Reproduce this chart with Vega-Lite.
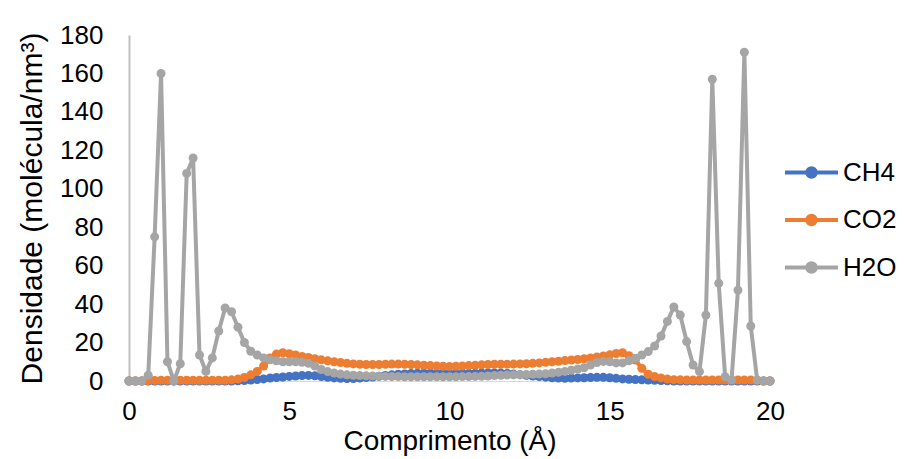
{
  "$schema": "https://vega.github.io/schema/vega-lite/v6.json",
  "width": 641,
  "height": 346,
  "autosize": {"type": "none"},
  "padding": {"left": 129, "top": 35, "right": 136, "bottom": 78},
  "background": "white",
  "config": {
    "view": {"stroke": null},
    "font": "Liberation Sans",
    "axis": {"labelFont": "Liberation Sans", "titleFont": "Liberation Sans", "labelColor": "#000000", "titleColor": "#000000", "titleFontWeight": "normal", "grid": false, "ticks": false},
    "legend": {"labelFont": "Liberation Sans", "labelColor": "#000000"}
  },
  "data": {
    "values": [
      {"x": 0.0, "CH4": 0, "CO2": 0, "H2O": 0},
      {"x": 0.2, "CH4": 0, "CO2": 0, "H2O": 0},
      {"x": 0.4, "CH4": 0, "CO2": 0, "H2O": 0},
      {"x": 0.6, "CH4": 0, "CO2": 0.2, "H2O": 3},
      {"x": 0.8, "CH4": 0, "CO2": 0.3, "H2O": 75},
      {"x": 1.0, "CH4": 0, "CO2": 0.4, "H2O": 160},
      {"x": 1.2, "CH4": 0, "CO2": 0.4, "H2O": 10},
      {"x": 1.4, "CH4": 0, "CO2": 0.4, "H2O": 0},
      {"x": 1.6, "CH4": 0, "CO2": 0.4, "H2O": 9},
      {"x": 1.8, "CH4": 0, "CO2": 0.4, "H2O": 108},
      {"x": 2.0, "CH4": 0, "CO2": 0.4, "H2O": 116},
      {"x": 2.2, "CH4": 0, "CO2": 0.4, "H2O": 13.5},
      {"x": 2.4, "CH4": 0, "CO2": 0.4, "H2O": 5},
      {"x": 2.6, "CH4": 0, "CO2": 0.4, "H2O": 12},
      {"x": 2.8, "CH4": 0, "CO2": 0.4, "H2O": 26},
      {"x": 3.0, "CH4": 0, "CO2": 0.4, "H2O": 38},
      {"x": 3.2, "CH4": 0, "CO2": 0.6, "H2O": 36},
      {"x": 3.4, "CH4": 0.1, "CO2": 1.0, "H2O": 28},
      {"x": 3.6, "CH4": 0.2, "CO2": 1.8, "H2O": 20},
      {"x": 3.8, "CH4": 0.5, "CO2": 3.2, "H2O": 15.5},
      {"x": 4.0, "CH4": 0.8, "CO2": 5.0, "H2O": 13.5},
      {"x": 4.2, "CH4": 1.1, "CO2": 7.8, "H2O": 12},
      {"x": 4.4, "CH4": 1.5, "CO2": 12.0, "H2O": 11},
      {"x": 4.6, "CH4": 1.8, "CO2": 14.0, "H2O": 10.5},
      {"x": 4.8, "CH4": 2.1, "CO2": 14.7, "H2O": 10},
      {"x": 5.0, "CH4": 2.4, "CO2": 14.2, "H2O": 10},
      {"x": 5.2, "CH4": 2.6, "CO2": 13.5, "H2O": 10},
      {"x": 5.4, "CH4": 2.8, "CO2": 12.8, "H2O": 9.7},
      {"x": 5.6, "CH4": 2.9, "CO2": 12.2, "H2O": 9.2},
      {"x": 5.8, "CH4": 2.7, "CO2": 11.6, "H2O": 7.8},
      {"x": 6.0, "CH4": 2.3, "CO2": 11.0, "H2O": 6},
      {"x": 6.2, "CH4": 1.9, "CO2": 10.5, "H2O": 4.9},
      {"x": 6.4, "CH4": 1.6, "CO2": 10.0, "H2O": 4.1},
      {"x": 6.6, "CH4": 1.4, "CO2": 9.6, "H2O": 3.6},
      {"x": 6.8, "CH4": 1.3, "CO2": 9.2, "H2O": 3.2},
      {"x": 7.0, "CH4": 1.3, "CO2": 8.9, "H2O": 3.0},
      {"x": 7.2, "CH4": 1.5, "CO2": 8.7, "H2O": 2.8},
      {"x": 7.4, "CH4": 1.8, "CO2": 8.6, "H2O": 2.7},
      {"x": 7.6, "CH4": 2.1, "CO2": 8.6, "H2O": 2.6},
      {"x": 7.8, "CH4": 2.5, "CO2": 8.6, "H2O": 2.5},
      {"x": 8.0, "CH4": 2.9, "CO2": 8.7, "H2O": 2.4},
      {"x": 8.2, "CH4": 3.2, "CO2": 8.8, "H2O": 2.3},
      {"x": 8.4, "CH4": 3.5, "CO2": 8.8, "H2O": 2.3},
      {"x": 8.6, "CH4": 3.7, "CO2": 8.7, "H2O": 2.2},
      {"x": 8.8, "CH4": 3.9, "CO2": 8.6, "H2O": 2.2},
      {"x": 9.0, "CH4": 4.0, "CO2": 8.4, "H2O": 2.2},
      {"x": 9.2, "CH4": 4.1, "CO2": 8.2, "H2O": 2.2},
      {"x": 9.4, "CH4": 4.1, "CO2": 8.0, "H2O": 2.2},
      {"x": 9.6, "CH4": 4.0, "CO2": 7.8, "H2O": 2.2},
      {"x": 9.8, "CH4": 3.9, "CO2": 7.7, "H2O": 2.2},
      {"x": 10.0, "CH4": 3.8, "CO2": 7.6, "H2O": 2.2},
      {"x": 10.2, "CH4": 3.8, "CO2": 7.7, "H2O": 2.2},
      {"x": 10.4, "CH4": 3.8, "CO2": 7.8, "H2O": 2.3},
      {"x": 10.6, "CH4": 3.9, "CO2": 8.0, "H2O": 2.3},
      {"x": 10.8, "CH4": 4.0, "CO2": 8.2, "H2O": 2.4},
      {"x": 11.0, "CH4": 4.1, "CO2": 8.4, "H2O": 2.5},
      {"x": 11.2, "CH4": 4.2, "CO2": 8.6, "H2O": 2.6},
      {"x": 11.4, "CH4": 4.2, "CO2": 8.7, "H2O": 2.8},
      {"x": 11.6, "CH4": 4.1, "CO2": 8.7, "H2O": 3.0},
      {"x": 11.8, "CH4": 3.9, "CO2": 8.7, "H2O": 3.1},
      {"x": 12.0, "CH4": 3.6, "CO2": 8.8, "H2O": 3.2},
      {"x": 12.2, "CH4": 3.3, "CO2": 8.9, "H2O": 3.3},
      {"x": 12.4, "CH4": 3.0, "CO2": 9.0, "H2O": 3.4},
      {"x": 12.6, "CH4": 2.6, "CO2": 9.2, "H2O": 3.5},
      {"x": 12.8, "CH4": 2.3, "CO2": 9.4, "H2O": 3.6},
      {"x": 13.0, "CH4": 2.0, "CO2": 9.7, "H2O": 3.8},
      {"x": 13.2, "CH4": 1.7, "CO2": 10.0, "H2O": 4.1},
      {"x": 13.4, "CH4": 1.5, "CO2": 10.3, "H2O": 4.5},
      {"x": 13.6, "CH4": 1.4, "CO2": 10.6, "H2O": 5.0},
      {"x": 13.8, "CH4": 1.5, "CO2": 10.9, "H2O": 5.6},
      {"x": 14.0, "CH4": 1.6, "CO2": 11.2, "H2O": 6.2},
      {"x": 14.2, "CH4": 1.7, "CO2": 11.6, "H2O": 6.9},
      {"x": 14.4, "CH4": 1.8, "CO2": 12.0, "H2O": 8.3},
      {"x": 14.6, "CH4": 1.9, "CO2": 12.5, "H2O": 9.6},
      {"x": 14.8, "CH4": 1.9, "CO2": 13.0, "H2O": 10.2},
      {"x": 15.0, "CH4": 1.7, "CO2": 13.6, "H2O": 10.0},
      {"x": 15.2, "CH4": 1.4, "CO2": 14.3, "H2O": 9.4},
      {"x": 15.4, "CH4": 1.1, "CO2": 14.7, "H2O": 9.4},
      {"x": 15.6, "CH4": 0.9, "CO2": 13.2, "H2O": 10.5},
      {"x": 15.8, "CH4": 0.8, "CO2": 10.9, "H2O": 11.8},
      {"x": 16.0, "CH4": 0.6, "CO2": 6.6, "H2O": 13.5},
      {"x": 16.2, "CH4": 0.5, "CO2": 3.5, "H2O": 15.3},
      {"x": 16.4, "CH4": 0.4, "CO2": 2.3, "H2O": 18.2},
      {"x": 16.6, "CH4": 0.2, "CO2": 1.6, "H2O": 23.4},
      {"x": 16.8, "CH4": 0.1, "CO2": 1.0, "H2O": 31},
      {"x": 17.0, "CH4": 0, "CO2": 0.7, "H2O": 38.5},
      {"x": 17.2, "CH4": 0, "CO2": 0.6, "H2O": 34.3},
      {"x": 17.4, "CH4": 0, "CO2": 0.5, "H2O": 20.5},
      {"x": 17.6, "CH4": 0, "CO2": 0.5, "H2O": 8.3},
      {"x": 17.8, "CH4": 0, "CO2": 0.5, "H2O": 4.9},
      {"x": 18.0, "CH4": 0, "CO2": 0.5, "H2O": 34.3},
      {"x": 18.2, "CH4": 0, "CO2": 0.5, "H2O": 157},
      {"x": 18.4, "CH4": 0, "CO2": 0.5, "H2O": 50.8},
      {"x": 18.6, "CH4": 0, "CO2": 0.5, "H2O": 2.2},
      {"x": 18.8, "CH4": 0, "CO2": 0.5, "H2O": 0.5},
      {"x": 19.0, "CH4": 0, "CO2": 0.5, "H2O": 47.3},
      {"x": 19.2, "CH4": 0, "CO2": 0.5, "H2O": 171},
      {"x": 19.4, "CH4": 0, "CO2": 0.5, "H2O": 28.6},
      {"x": 19.6, "CH4": 0, "CO2": 0.3, "H2O": 0.5},
      {"x": 19.8, "CH4": 0, "CO2": 0, "H2O": 0},
      {"x": 20.0, "CH4": 0, "CO2": 0, "H2O": 0}
    ]
  },
  "transform": [{"fold": ["CH4", "CO2", "H2O"], "as": ["serie", "dens"]}],
  "encoding": {
    "x": {
      "field": "x", "type": "quantitative",
      "scale": {"domain": [0, 20], "nice": false},
      "axis": {"values": [0, 5, 10, 15, 20], "title": "Comprimento (Å)", "labelFontSize": 26, "titleFontSize": 28, "labelPadding": 17, "titlePadding": 3, "domainColor": "#d9d9d9", "domainWidth": 1, "labelFlush": false}
    },
    "y": {
      "field": "dens", "type": "quantitative",
      "scale": {"domain": [0, 180], "nice": false},
      "axis": {"values": [0, 20, 40, 60, 80, 100, 120, 140, 160, 180], "title": "Densidade (molécula/nm³)", "labelFontSize": 26, "titleFontSize": 30, "labelPadding": 26, "titlePadding": 12, "domainColor": "#bfbfbf", "domainWidth": 2}
    },
    "color": {
      "field": "serie", "type": "nominal",
      "scale": {"domain": ["CH4", "CO2", "H2O"], "range": ["#4472C4", "#ED7D31", "#A5A5A5"]},
      "legend": {
        "title": null, "orient": "none", "legendX": 667, "legendY": 122,
        "labelFontSize": 26, "labelOffset": 16, "rowPadding": 18.5, "padding": 0,
        "symbolType": "M-2,0L2,0M0.32,0A0.32,0.32,0,1,1,-0.32,0A0.32,0.32,0,1,1,0.32,0Z",
        "symbolSize": 702, "symbolStrokeWidth": 4, "symbolOpacity": 1,
        "encode": {"symbols": {"update": {"fill": {"scale": "color", "field": "value"}, "stroke": {"scale": "color", "field": "value"}}}}
      }
    }
  },
  "layer": [
    {"transform": [{"filter": "datum.serie === 'CH4'"}], "mark": {"type": "line", "strokeWidth": 4, "point": {"filled": true, "size": 81, "opacity": 1}}},
    {"transform": [{"filter": "datum.serie === 'CO2'"}], "mark": {"type": "line", "strokeWidth": 4, "point": {"filled": true, "size": 81, "opacity": 1}}},
    {"transform": [{"filter": "datum.serie === 'H2O'"}], "mark": {"type": "line", "strokeWidth": 4, "point": {"filled": true, "size": 81, "opacity": 1}}}
  ]
}
